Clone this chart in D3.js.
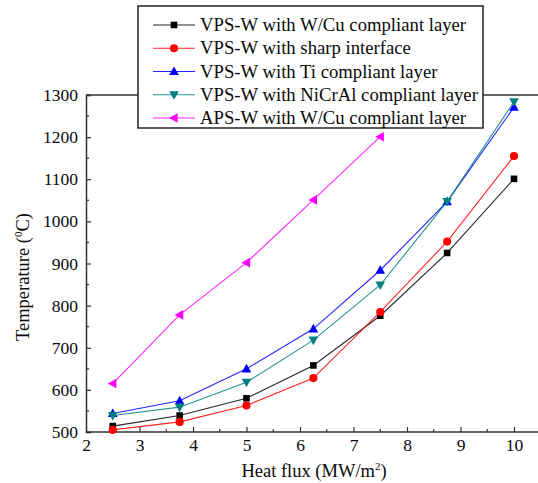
<!DOCTYPE html>
<html>
<head>
<meta charset="utf-8">
<script src="https://cdn.jsdelivr.net/npm/d3@7"></script>
<style>
  html, body { margin: 0; padding: 0; background: #fff; }
</style>
</head>
<body>
<svg id="chart" width="538" height="483"></svg>
<script>
// Heat flux (MW/m²)
const heatFlux = [2.5, 3.75, 5, 6.25, 7.5, 8.75, 10];
const heatFluxAPS = [2.5, 3.75, 5, 6.25, 7.5];

// Surface temperature (°C) per coating configuration
const vpsWCu     = [514, 539, 580, 658, 776, 925, 1101];
const vpsSharp   = [505, 524, 563, 628, 785, 952, 1155];
const vpsTi      = [544, 574, 650, 745, 884, 1047, 1271];
const vpsNiCrAl  = [539, 559, 618, 718, 849, 1047, 1284];
const apsWCu     = [615, 778, 902, 1051, 1201];

const seriesNames = [
  "VPS-W with W/Cu compliant layer",
  "VPS-W with sharp interface",
  "VPS-W with Ti compliant layer",
  "VPS-W with NiCrAl compliant layer",
  "APS-W with W/Cu compliant layer"
];

const xTicks = [2, 3, 4, 5, 6, 7, 8, 9, 10];
const yTicks = [500, 600, 700, 800, 900, 1000, 1100, 1200, 1300];

const series = [
  { name: seriesNames[0], x: heatFlux,    y: vpsWCu,    color: "#000000", marker: "square" },
  { name: seriesNames[1], x: heatFlux,    y: vpsSharp,  color: "#ff0000", marker: "circle" },
  { name: seriesNames[2], x: heatFlux,    y: vpsTi,     color: "#0000ff", marker: "up" },
  { name: seriesNames[3], x: heatFlux,    y: vpsNiCrAl, color: "#008080", marker: "down" },
  { name: seriesNames[4], x: heatFluxAPS, y: apsWCu,    color: "#ff00ff", marker: "left" }
];

const FONT = "Liberation Serif";
const svg = d3.select("#chart");
const plotLeft = 86, plotTop = 95, plotBottom = 432;

const x = d3.scaleLinear().domain([2, 10]).range([plotLeft, 514]);
const y = d3.scaleLinear().domain([500, 1300]).range([plotBottom, plotTop]);
const plotRight = x(10.5);

// marker shapes
function markerPath(type) {
  const s = 4.2;
  switch (type) {
    case "square": return `M${-3.3},${-3.3}h6.6v6.6h-6.6z`;
    case "circle": return d3.symbol(d3.symbolCircle, 52)();
    case "up":     return `M0,${-s - 0.8}L${s + 0.6},${s - 0.6}L${-s - 0.6},${s - 0.6}Z`;
    case "down":   return `M0,${s + 0.8}L${s + 0.6},${-s + 0.6}L${-s - 0.6},${-s + 0.6}Z`;
    case "left":   return `M${-s - 0.8},0L${s - 0.6},${-s - 0.6}L${s - 0.6},${s + 0.6}Z`;
  }
}

// top border of the plot frame
svg.append("line").attr("x1", plotLeft).attr("x2", plotRight).attr("y1", plotTop).attr("y2", plotTop)
  .attr("stroke", "#333").attr("stroke-width", 1.5);

// y axis with inward ticks
const yAxis = svg.append("g").attr("transform", `translate(${plotLeft},0)`)
  .call(d3.axisLeft(y).tickValues(yTicks).tickSize(-5).tickPadding(8).tickFormat(d3.format("d")));
yAxis.attr("font-family", null).attr("font-size", null);
yAxis.selectAll(".tick line").attr("stroke", "#333").attr("stroke-width", 1.2);
yAxis.select(".domain").attr("stroke", "#333").attr("stroke-width", 1.5);
yAxis.selectAll("text").attr("font-family", FONT).attr("font-size", 17.5).attr("fill", "#0a0a0a");
const yMinor = d3.range(550, 1300, 100);
svg.append("g").selectAll("line").data(yMinor).join("line")
  .attr("x1", plotLeft).attr("x2", plotLeft + 3).attr("y1", d => y(d)).attr("y2", d => y(d))
  .attr("stroke", "#333").attr("stroke-width", 1.2);

// x axis with inward ticks
const xAxis = svg.append("g").attr("transform", `translate(0,${plotBottom})`)
  .call(d3.axisBottom(x).tickValues(xTicks).tickSize(-5).tickPadding(7).tickFormat(d3.format("d")));
xAxis.attr("font-family", null).attr("font-size", null);
xAxis.selectAll(".tick line").attr("stroke", "#333").attr("stroke-width", 1.2);
xAxis.select(".domain").attr("d", `M${plotLeft},0H${plotRight}`).attr("stroke", "#333").attr("stroke-width", 1.5);
xAxis.selectAll("text").attr("font-family", FONT).attr("font-size", 17.5).attr("fill", "#0a0a0a");
const xMinor = d3.range(2.5, 10.5, 1);
svg.append("g").selectAll("line").data(xMinor).join("line")
  .attr("x1", d => x(d)).attr("x2", d => x(d)).attr("y1", plotBottom).attr("y2", plotBottom - 3)
  .attr("stroke", "#333").attr("stroke-width", 1.2);

// axis titles
svg.append("text").attr("x", 314).attr("y", 477).attr("text-anchor", "middle")
  .attr("font-family", FONT).attr("font-size", 18.5).attr("fill", "#0a0a0a")
  .html('Heat flux (MW/m<tspan dy="-7" font-size="11">2</tspan><tspan dy="7">)</tspan>');
svg.append("text").attr("transform", "translate(29,277) rotate(-90)").attr("text-anchor", "middle")
  .attr("font-family", FONT).attr("font-size", 18.5).attr("fill", "#0a0a0a")
  .html('Temperature (<tspan dy="-7" font-size="11">0</tspan><tspan dy="7">C)</tspan>');

// series lines and markers
const line = d3.line().x(d => x(d[0])).y(d => y(d[1]));
series.forEach(s => {
  const pts = s.x.map((v, i) => [v, s.y[i]]);
  svg.append("path").datum(pts).attr("d", line)
    .attr("fill", "none").attr("stroke", s.color).attr("stroke-width", 1.1).attr("stroke-opacity", 0.85);
  svg.append("g").selectAll("path").data(pts).join("path")
    .attr("transform", d => `translate(${x(d[0])},${y(d[1])})`)
    .attr("d", markerPath(s.marker)).attr("fill", s.color);
});

// legend
const lg = svg.append("g");
lg.append("rect").attr("x", 138).attr("y", 6).attr("width", 345).attr("height", 122)
  .attr("fill", "#fff").attr("stroke", "#222").attr("stroke-width", 1.5);
const rowY = d3.scalePoint().domain(seriesNames).range([25, 118]);
series.forEach(s => {
  const cy = rowY(s.name);
  lg.append("line").attr("x1", 153).attr("x2", 195).attr("y1", cy).attr("y2", cy)
    .attr("stroke", s.color).attr("stroke-width", 1.1).attr("stroke-opacity", 0.85);
  lg.append("path").attr("transform", `translate(174,${cy})`).attr("d", markerPath(s.marker)).attr("fill", s.color);
  lg.append("text").attr("x", 200).attr("y", cy + 6).attr("font-family", FONT).attr("font-size", 18.7)
    .attr("fill", "#0a0a0a").text(s.name);
});
</script>
</body>
</html>
